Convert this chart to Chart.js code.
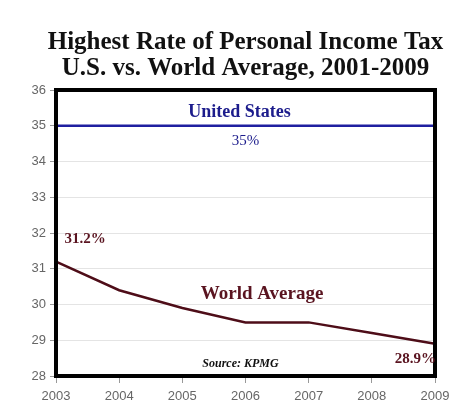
<!DOCTYPE html>
<html>
<head>
<meta charset="utf-8">
<script src="https://cdn.jsdelivr.net/npm/chart.js@4.4.1/dist/chart.umd.min.js"></script>
<style>
  html, body { margin: 0; padding: 0; background: #fff; }
  #wrap { width: 465px; height: 415px; position: relative; }
</style>
</head>
<body>
<div id="wrap"><canvas id="chart" width="465" height="415"></canvas></div>
<script>
// chart data
const years = ["2003", "2004", "2005", "2006", "2007", "2008", "2009"];
const usRate = [35, 35, 35, 35, 35, 35, 35];
const worldAvg = [31.2, 30.4, 29.9, 29.5, 29.5, 29.2, 28.9];
const yTicks = [28, 29, 30, 31, 32, 33, 34, 35, 36];
const titleLines = ["Highest Rate of Personal Income Tax", "U.S. vs. World Average, 2001-2009"];

const serif = "'Liberation Serif', 'Times New Roman', serif";
const sans = "'Liberation Sans', Arial, sans-serif";

// title, thick black frame and text notes on the plot
const annotations = {
    id: "annotations",
    afterDatasetsDraw(chart) {
        const ctx = chart.ctx;
        const a = chart.chartArea;
        const x = chart.scales.x;
        const y = chart.scales.y;
        const mid = (a.left + a.right) / 2;

        ctx.save();
        ctx.strokeStyle = "#000";
        ctx.lineWidth = 4;
        ctx.strokeRect(a.left, a.top, a.right - a.left, a.bottom - a.top);

        ctx.textAlign = "center";
        ctx.textBaseline = "middle";

        // title
        ctx.fillStyle = "#111";
        ctx.font = "bold 25px " + serif;
        ctx.fillText(titleLines[0], mid, 43);
        ctx.fillText(titleLines[1], mid, 69);

        // United States
        ctx.fillStyle = "#1c1c8c";
        ctx.font = "bold 18px " + serif;
        ctx.fillText("United States", mid - 6, y.getPixelForValue(35) - 13);
        ctx.font = "15px " + serif;
        ctx.fillText(usRate[0] + "%", mid, y.getPixelForValue(35) + 15);

        // World average
        ctx.fillStyle = "#5a1420";
        ctx.font = "bold 15px " + serif;
        ctx.fillText(worldAvg[0] + "%", x.getPixelForValue(0) + 29, y.getPixelForValue(worldAvg[0]) - 22);
        ctx.font = "bold 19px " + serif;
        ctx.fillText("World Average", (x.getPixelForValue(3) + x.getPixelForValue(4)) / 2 - 15, y.getPixelForValue(30.3));
        ctx.textAlign = "right";
        ctx.font = "bold 15px " + serif;
        ctx.fillText(worldAvg[6] + "%", a.right + 1, y.getPixelForValue(worldAvg[6]) + 15);

        // source
        ctx.textAlign = "center";
        ctx.fillStyle = "#111";
        ctx.font = "italic bold 12px " + serif;
        ctx.fillText("Source: KPMG", mid - 5, a.bottom - 12);
        ctx.restore();
    }
};

new Chart(document.getElementById("chart"), {
    type: "line",
    data: {
        labels: years,
        datasets: [
            {
                label: "United States",
                data: usRate,
                borderColor: "#1f1fa0",
                borderWidth: 2.5,
                pointRadius: 0,
                tension: 0
            },
            {
                label: "World Average",
                data: worldAvg,
                borderColor: "#4e0d18",
                borderWidth: 2.5,
                pointRadius: 0,
                tension: 0
            }
        ]
    },
    options: {
        responsive: false,
        animation: false,
        layout: { padding: { left: 0, right: 30, top: 90, bottom: 0 } },
        plugins: {
            legend: { display: false },
            tooltip: { enabled: false },
            title: { display: false }
        },
        scales: {
            x: {
                offset: false,
                grid: { display: true, drawOnChartArea: false, tickLength: 7, tickColor: "#999" },
                border: { display: false },
                ticks: { color: "#666", font: { family: sans, size: 13 }, padding: 6, maxRotation: 0 },
                afterFit(scale) { scale.height = 39; }
            },
            y: {
                min: 28,
                max: 36,
                afterBuildTicks(scale) { scale.ticks = yTicks.map(v => ({ value: v })); },
                grid: { color: "#e4e4e4", tickLength: 6, tickColor: "#999" },
                border: { display: false },
                ticks: { color: "#666", font: { family: sans, size: 13 }, padding: 4 },
                afterFit(scale) { scale.width = 56; }
            }
        }
    },
    plugins: [annotations]
});
</script>
</body>
</html>
